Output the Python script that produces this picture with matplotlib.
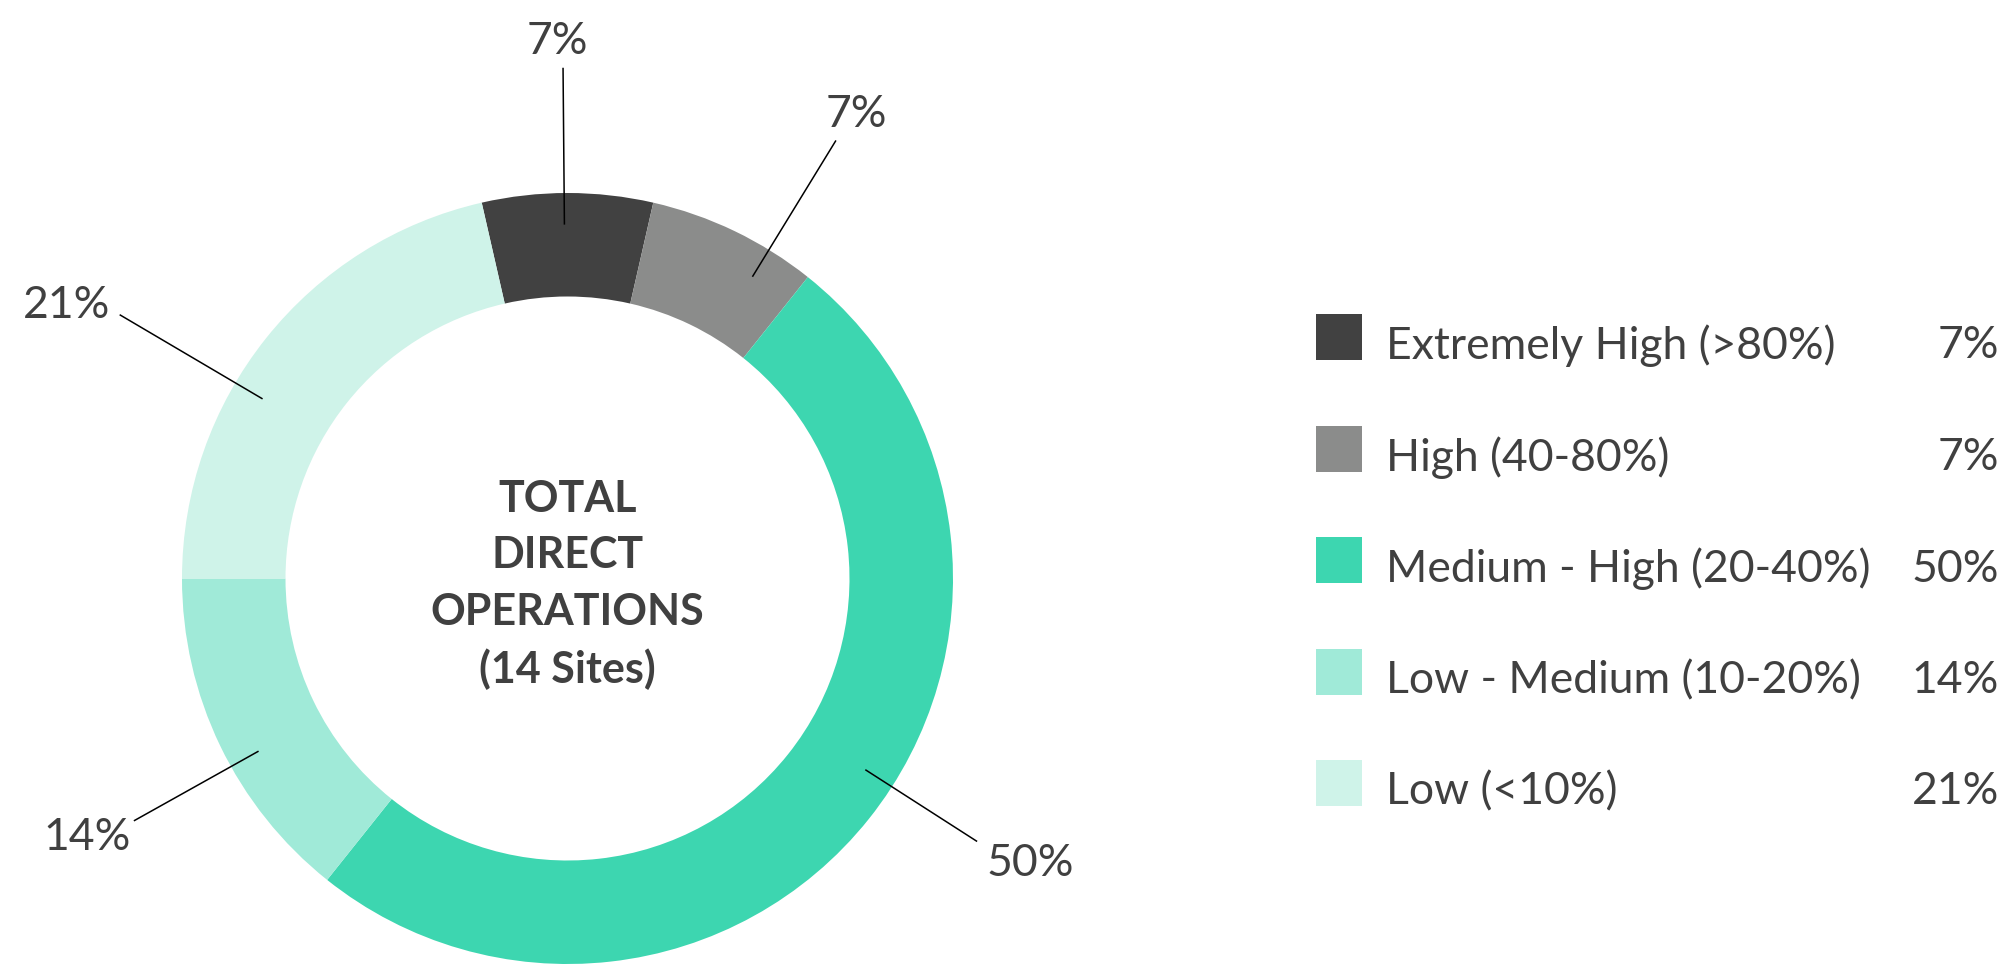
import matplotlib
matplotlib.use("Agg")
import matplotlib.pyplot as plt
import numpy as np

plt.rcParams['font.family'] = ['Lato', 'DejaVu Sans']

### data
categories = ["Extremely High (>80%)", "High (40-80%)", "Medium - High (20-40%)",
              "Low - Medium (10-20%)", "Low (<10%)"]
sites = [1, 1, 7, 2, 3]
center_text = "TOTAL\nDIRECT\nOPERATIONS\n(14 Sites)"

### style
colors = ["#414141", "#8b8c8b", "#3dd6b0", "#a0ead8", "#cff3e9"]
txt = "#404040"
line_ang = [90.5, 58.5, -32.7, -150.8, 149.5]    # leader line direction (deg)
line_out = [510, 513, 486, 496, 519]             # leader line outer radius, px
text_ang = [91.1, 58.4, -31.1, -152.2, 150.9]    # label direction (deg)
text_r = [543, 552, 540, 543, 573]               # label radius, px

W, H = 2009, 964
cx, cy = 567.5, H - 578.5
R, ring = 385.5, 103.5

pct = [round(100 * s / sum(sites)) for s in sites]

fig = plt.figure(figsize=(W / 100, H / 100), dpi=100)
ax = fig.add_axes([0, 0, 1, 1])

span = 360 * sites[0] / sum(sites)
ax.pie(sites, colors=colors, center=(cx, cy), radius=R, startangle=90 + span / 2,
       counterclock=False, wedgeprops=dict(width=ring, linewidth=0))

# leader lines + percentage labels
for p, a, ro, ta, tr in zip(pct, line_ang, line_out, text_ang, text_r):
    t = np.deg2rad(a)
    r1 = 0.92 * R
    ax.plot([cx + r1 * np.cos(t), cx + ro * np.cos(t)],
            [cy + r1 * np.sin(t), cy + ro * np.sin(t)], color="black", lw=1.1)
    t = np.deg2rad(ta)
    ax.text(cx + tr * np.cos(t), cy + tr * np.sin(t) - 6, f"{p}%", fontsize=32,
            color=txt, ha="center", va="center")

ax.text(cx, cy - 6, center_text, fontsize=31, fontweight="bold", color=txt,
        ha="center", va="center", linespacing=1.5)

# legend
for i, (c, lab, p) in enumerate(zip(colors, categories, pct)):
    y = H - (337 + i * 111.5)
    ax.add_patch(plt.Rectangle((1316, y - 23), 46, 46, color=c, lw=0))
    ax.text(1386, y - 9, lab, fontsize=32, color=txt, va="center", ha="left")
    ax.text(1999, y - 9, f"{p}%", fontsize=32, color=txt, va="center", ha="right")

ax.set_xlim(0, W)
ax.set_ylim(0, H)
ax.set_aspect("equal")
ax.axis("off")

fig.savefig("out.png", dpi=100, facecolor="white")
